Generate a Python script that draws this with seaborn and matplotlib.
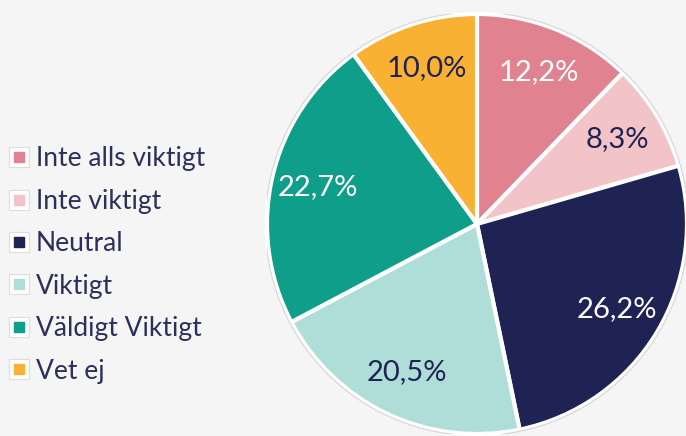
import matplotlib
matplotlib.use("Agg")
import matplotlib.pyplot as plt
import seaborn as sns
from matplotlib.lines import Line2D
from matplotlib.legend_handler import HandlerTuple
from matplotlib.patches import Circle

categories = ["Inte alls viktigt", "Inte viktigt", "Neutral", "Viktigt", "Väldigt Viktigt", "Vet ej"]
values = [12.2, 8.3, 26.2, 20.5, 22.7, 10.0]
colors = ["#E0828F", "#F2C4C8", "#1F2353", "#AFDDD8", "#0E9E8A", "#F8B133"]
label_colors = ["white", "#1F2353", "white", "#1F2353", "white", "#1F2353"]

sns.set_theme(style="white")
plt.rcParams["font.family"] = ["Lato", "DejaVu Sans"]

bg = "#F5F5F5"
fig = plt.figure(figsize=(6.86, 4.36), dpi=100, facecolor=bg)
ax = fig.add_axes([(477 - 210) / 686, 2 / 436, 420 / 686, 420 / 436])
ax.set_facecolor(bg)

labels_iter = iter(values)
def fmt(_):
    return f"{next(labels_iter):.1f}".replace(".", ",") + "%"

wedges, texts, autotexts = ax.pie(
    values, colors=colors, startangle=90, counterclock=False,
    autopct=fmt, pctdistance=0.78, radius=1.0,
    wedgeprops=dict(edgecolor="white", linewidth=3),
    textprops=dict(fontsize=21),
)
for t, c in zip(autotexts, label_colors):
    t.set_color(c)

ax.add_patch(Circle((0, 0), 1.008, fill=False, edgecolor="#d4d4d4", lw=0.8))
ax.set_xlim(-1.0, 1.0)
ax.set_ylim(-1.0, 1.0)
ax.set_aspect("equal")
ax.axis("off")

handles = []
for c in colors:
    box = Line2D([], [], marker="s", linestyle="none", markersize=15,
                 markerfacecolor="white", markeredgecolor="#dddddd", markeredgewidth=0.8)
    inner = Line2D([], [], marker="s", linestyle="none", markersize=6.5,
                   markerfacecolor=c, markeredgecolor=c)
    handles.append((box, inner))

leg = fig.legend(handles, categories, loc="center left",
                 bbox_to_anchor=(0.0, (436 - 265) / 436),
                 handler_map={tuple: HandlerTuple(ndivide=1)},
                 frameon=False, fontsize=19, labelspacing=0.66,
                 handlelength=0.85, handletextpad=0.2, borderaxespad=0.0,
                 borderpad=0.3)
for t in leg.get_texts():
    t.set_color("#2B2F5A")

fig.savefig("out.png", dpi=100, facecolor=bg)
